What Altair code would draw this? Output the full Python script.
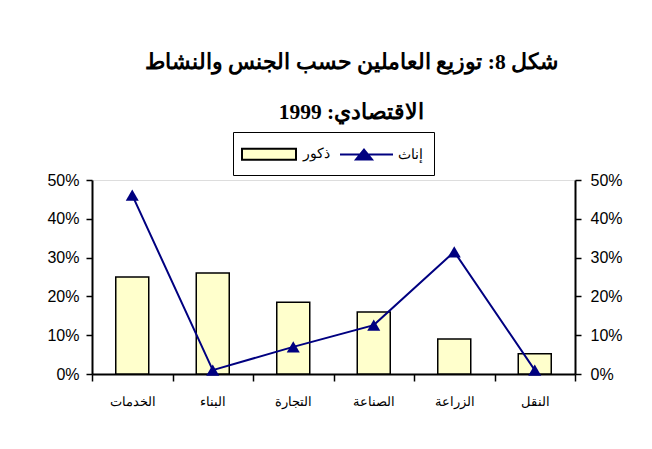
import altair as alt
import pandas as pd

categories = ["الخدمات", "البناء", "التجارة", "الصناعة", "الزراعة", "النقل"]
males = [0.25, 0.26, 0.185, 0.16, 0.09, 0.052]
females = [0.461, 0.01, 0.07, 0.126, 0.315, 0.01]
series_names = ["ذكور", "إناث"]
title_lines = ["شكل 8: توزيع العاملين حسب الجنس والنشاط", "الاقتصادي: 1999"]
y_ticks = [0, 0.1, 0.2, 0.3, 0.4, 0.5]

bar_fill = "#FFFFCC"
navy = "#000080"

df_m = pd.DataFrame({"cat": categories, "value": males, "series": series_names[0]})
df_f = pd.DataFrame({"cat": categories, "value": females, "series": series_names[1]})
df = pd.concat([df_m, df_f], ignore_index=True)

base = alt.Chart(df)

x_enc = alt.X(
    "cat:N",
    scale=alt.Scale(domain=categories, paddingInner=0, paddingOuter=0),
    axis=alt.Axis(
        title=None, labelAngle=0, tickBand="extent", domainColor="black",
        domainWidth=2, tickColor="black", tickWidth=1.5, tickSize=7,
        labelPadding=14, labelFontSize=13, labelFont="Liberation Sans",
        labelColor="black",
    ),
)
yscale = alt.Scale(domain=[0, 0.5], nice=False, zero=True)


def yaxis(orient):
    return alt.Axis(
        title=None, orient=orient, values=y_ticks, format=".0%", grid=False,
        domainColor="black", domainWidth=2, tickColor="black", tickWidth=1.5,
        tickSize=6, labelPadding=7 if orient == "left" else 9, labelFontSize=16,
        labelFont="Liberation Sans", labelColor="black",
    )


bars = base.transform_filter(alt.datum.series == series_names[0]).mark_bar(
    size=33, fill=bar_fill, stroke="black", strokeWidth=1.5
).encode(
    x=x_enc,
    y=alt.Y("value:Q", scale=yscale, axis=yaxis("left")),
)

line = base.transform_filter(alt.datum.series == series_names[1]).mark_line(
    color=navy, strokeWidth=2
).encode(
    x=x_enc,
    y=alt.Y("value:Q", scale=yscale, axis=yaxis("right")),
)

points = base.transform_filter(alt.datum.series == series_names[1]).mark_point(
    shape="triangle-up", filled=True, fill=navy, size=170, opacity=1
).encode(
    x=x_enc,
    y=alt.Y("value:Q", scale=yscale, axis=None),
)

rect_path = "M-1.3,-0.55H4.1V0.55H-1.3Z"
line_tri_path = "M-1,0H4.3M1.4,-0.5L2.2,0.5L0.6,0.5Z"

legend = alt.Legend(
    title=None, orient="none", direction="horizontal", legendX=141, legendY=-48,
    strokeColor="black", padding=11, labelFontSize=14, labelFont="Liberation Sans",
    labelColor="black", symbolSize=400, symbolStrokeWidth=2, symbolOpacity=1,
    labelOffset=37, columnPadding=6,
)

legend_layer = base.transform_filter("false").mark_point(filled=True, opacity=1).encode(
    x=x_enc,
    y=alt.Y("value:Q", scale=yscale, axis=None),
    fill=alt.Fill("series:N", scale=alt.Scale(domain=series_names, range=[bar_fill, navy]), legend=legend),
    stroke=alt.Stroke("series:N", scale=alt.Scale(domain=series_names, range=["black", navy]), legend=legend),
    shape=alt.Shape("series:N", scale=alt.Scale(domain=series_names, range=[rect_path, line_tri_path]), legend=legend),
)

chart = alt.layer(bars, line, points, legend_layer).resolve_axis(y="independent").properties(
    width=483,
    height=194,
    autosize="none",
    padding={"left": 84, "top": 172, "right": 69, "bottom": 67},
    title=alt.Title(
        text=title_lines, anchor="middle", dx=18, offset=8, fontSize=21.5,
        font="Liberation Serif", fontWeight="bold", lineHeight=50, color="black",
    ),
).configure_view(stroke="#808080", strokeWidth=1.5).configure(background="white")

chart.save("out.html", embed_options={"renderer": "svg", "actions": False})
